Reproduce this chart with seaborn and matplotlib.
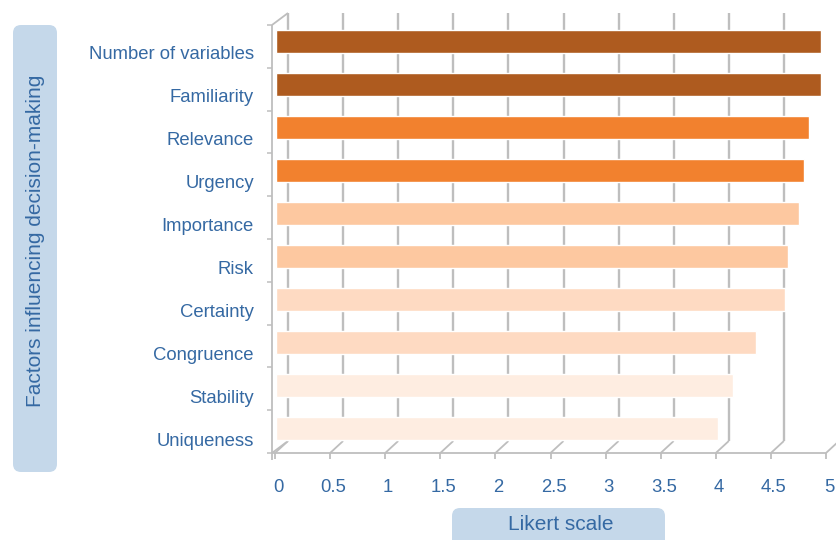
import numpy as np
import pandas as pd
import matplotlib
matplotlib.use("Agg")
import matplotlib.pyplot as plt
import seaborn as sns
from matplotlib.transforms import blended_transform_factory, ScaledTranslation
from matplotlib.patches import FancyBboxPatch

# ---------------- data ----------------
factors = ["Number of variables", "Familiarity", "Relevance", "Urgency", "Importance",
           "Risk", "Certainty", "Congruence", "Stability", "Uniqueness"]
scores = [4.95, 4.95, 4.84, 4.79, 4.75, 4.65, 4.62, 4.36, 4.15, 4.01]
bar_colors = ["#AE5B1F", "#AE5B1F", "#F2812E", "#F2812E", "#FDC8A0",
              "#FDC8A0", "#FEDAC2", "#FEDAC2", "#FEEDE1", "#FEEDE1"]
x_ticks = [0, 0.5, 1, 1.5, 2, 2.5, 3, 3.5, 4, 4.5, 5]
x_tick_labels = ["0", "0.5", "1", "1.5", "2", "2.5", "3", "3.5", "4", "4.5", "5"]
y_title = "Factors influencing decision-making"
x_title = "Likert scale"

# ---------------- style ----------------
sns.set_theme(style="white")
plt.rcParams["font.family"] = ["Liberation Sans", "DejaVu Sans"]
TXT = "#3569A3"
BOX = "#C5D8EA"
GRID = "#BEBEBE"

W, H = 836, 540
fig = plt.figure(figsize=(W / 100, H / 100), dpi=100)
ax = fig.add_axes([276 / W, (H - 453) / H, 551 / W, 439 / H])
ax.patch.set_alpha(0)

df = pd.DataFrame({"factor": factors, "score": scores})
sns.barplot(data=df, x="score", y="factor", hue="factor", palette=bar_colors,
            legend=False, width=0.535, saturation=1, ax=ax, zorder=3)

ax.set_xlim(0, 5)
ax.set_ylim(9.581, -0.628)
ax.set_xlabel("")
ax.set_ylabel("")
for s in ax.spines.values():
    s.set_visible(False)
ax.set_xticks(x_ticks)
ax.set_xticklabels(x_tick_labels)
ax.tick_params(axis="x", length=0, pad=19, labelsize=13.3, labelcolor=TXT)
ax.tick_params(axis="y", length=0, pad=16, labelsize=13.3, labelcolor=TXT)
for lab in ax.get_yticklabels():
    lab.set_transform(lab.get_transform() + ScaledTranslation(0, -11.5 / 100, fig.dpi_scale_trans))
for lab in ax.get_xticklabels():
    lab.set_transform(lab.get_transform() + ScaledTranslation(2 / 100, 0, fig.dpi_scale_trans))

# ---------------- pseudo-3D walls ----------------
bt = blended_transform_factory(ax.transData, ax.transAxes)
top_f = (453 - 25) / 439
DX, DY = 12, 12


def P(v, f, dx=0, dy=0):
    x, y = bt.transform((v, f))
    return (x + dx) / W, (y + dy) / H


def seg(a, b, lw=1.7):
    ax.plot([a[0], b[0]], [a[1], b[1]], transform=fig.transFigure, color=GRID,
            lw=lw, clip_on=False, zorder=1, solid_capstyle="butt")


for v in x_ticks:
    seg(P(v, 0, DX, DY), P(v, top_f, DX, DY))          # back wall gridline
    seg(P(v, 0, -1, 0), P(v, 0, DX, DY), lw=1.3)        # floor slant
    seg(P(v, 0, -1, 0), P(v, 0, -1, -6), lw=1.3)        # front tick

seg(P(0, 0, -4, 0), P(5, 0, -1, 0), lw=1.3)             # front floor edge
seg(P(0, 0, -4, -7), P(0, top_f, -4, 0), lw=1.3)        # front left edge
seg(P(0, top_f, -4, 0), P(0, top_f, DX, DY), lw=1.3)    # top-left slant
seg(P(0, 0, -4, 0), P(0, 0, DX, DY), lw=1.3)            # bottom-left slant
for k in range(len(factors) + 1):
    f = top_f * (1 - k / len(factors))
    seg(P(0, f, -9, 0), P(0, f, -4, 0), lw=1.1)         # left ticks

# ---------------- axis title boxes ----------------
fig.add_artist(FancyBboxPatch((0.13, (H - 472) / 100), 0.44, 4.47,
                              boxstyle="round,pad=0,rounding_size=0.08",
                              transform=fig.dpi_scale_trans, facecolor=BOX,
                              edgecolor="none", zorder=0))
fig.text(36 / W, 1 - 241 / H, y_title, rotation=90, ha="center", va="center",
         fontsize=15, color=TXT)

fig.add_artist(FancyBboxPatch((4.52, -0.1), 2.13, (H - 508 + 10) / 100,
                              boxstyle="round,pad=0,rounding_size=0.08",
                              transform=fig.dpi_scale_trans, facecolor=BOX,
                              edgecolor="none", zorder=0))
fig.text(561 / W, 1 - 525 / H, x_title, ha="center", va="center",
         fontsize=15, color=TXT)

fig.savefig("out.png", dpi=100)
